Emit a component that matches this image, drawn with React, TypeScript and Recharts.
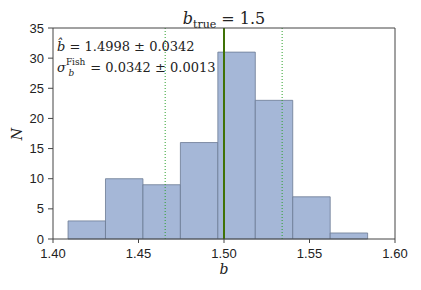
import React from 'react';
import { ComposedChart, XAxis, YAxis, ReferenceArea, ReferenceLine, Scatter } from 'recharts';

const binEdges = [1.4088, 1.4307, 1.4526, 1.4745, 1.4964, 1.5183, 1.5402, 1.5621, 1.5840];
const counts = [3, 10, 9, 16, 31, 23, 7, 1];
const xTicks = [1.4, 1.45, 1.5, 1.55, 1.6];
const yTicks = [0, 5, 10, 15, 20, 25, 30, 35];
const bTrue = 1.5;
const bHat = 1.4998;
const sigma = 0.0342;

const bins = counts.map((c, i) => ({ x0: binEdges[i], x1: binEdges[i + 1], n: c, mid: (binEdges[i] + binEdges[i + 1]) / 2 }));

const W = 421;
const H = 290;
const tickFont = { fontFamily: 'Liberation Sans, Arial, sans-serif', fontSize: 13, fill: '#222' };
const serif = 'DejaVu Serif, serif';

export default function App() {
  return (
    <div style={{ position: 'absolute', left: 0, top: 0, width: W, height: H, background: '#fff' }}>
      <ComposedChart width={W} height={H} data={bins} margin={{ top: 27, right: 25, bottom: 0, left: 13 }}>
        <XAxis
          xAxisId="b"
          dataKey="mid"
          type="number"
          domain={[1.4, 1.6]}
          ticks={xTicks}
          allowDataOverflow
          tickFormatter={(v: number) => v.toFixed(2)}
          tick={tickFont}
          tickSize={4}
          tickMargin={6}
          stroke="#444"
          height={51}
          interval={0}
        />
        <XAxis
          xAxisId="t"
          dataKey="mid"
          orientation="top"
          type="number"
          domain={[1.4, 1.6]}
          ticks={xTicks}
          allowDataOverflow
          tick={false}
          tickSize={4}
          stroke="#444"
          height={1}
          interval={0}
        />
        <YAxis
          yAxisId="l"
          dataKey="n"
          type="number"
          domain={[0, 35]}
          ticks={yTicks}
          allowDataOverflow
          tick={tickFont}
          tickSize={5}
          tickMargin={4}
          stroke="#444"
          width={40}
          interval={0}
        />
        <YAxis
          yAxisId="r"
          dataKey="n"
          orientation="right"
          type="number"
          domain={[0, 35]}
          ticks={yTicks}
          allowDataOverflow
          tick={false}
          tickSize={5}
          stroke="#444"
          width={1}
          interval={0}
        />
        {bins.map((b, i) => (
          <ReferenceArea
            key={i}
            xAxisId="b"
            yAxisId="l"
            x1={b.x0}
            x2={b.x1}
            y1={0}
            y2={b.n}
            fill="#a5b7d7"
            fillOpacity={1}
            stroke="#6b7a94"
            strokeOpacity={0.8}
            strokeWidth={1}
            ifOverflow="visible"
          />
        ))}
        <ReferenceLine xAxisId="b" yAxisId="l" x={bHat - sigma} stroke="#2ca02c" strokeWidth={1} strokeDasharray="1 2" />
        <ReferenceLine xAxisId="b" yAxisId="l" x={bHat + sigma} stroke="#2ca02c" strokeWidth={1} strokeDasharray="1 2" />
        <ReferenceLine xAxisId="b" yAxisId="l" x={bTrue} stroke="#3f7206" strokeWidth={2} />
        <Scatter xAxisId="b" yAxisId="l" dataKey="n" isAnimationActive={false} shape={() => <g />} />
        <Scatter xAxisId="t" yAxisId="r" dataKey="n" isAnimationActive={false} shape={() => <g />} />
        <text x={224} y={24} textAnchor="middle" fontFamily={serif} fontSize={16} fill="#222">
          <tspan fontStyle="italic">b</tspan>
          <tspan fontSize={11} dy={4}>true</tspan>
          <tspan dy={-4}> = 1.5</tspan>
        </text>
        <text x={57} y={51} fontFamily={serif} fontSize={13} fill="#222">
          <tspan fontStyle="italic">b̂</tspan>
          <tspan> = 1.4998 ± 0.0342</tspan>
        </text>
        <text x={57} y={72} fontFamily={serif} fontSize={13} fill="#222">
          <tspan fontStyle="italic">σ</tspan>
          <tspan fontSize={9} dy={-7}>Fish</tspan>
          <tspan fontSize={9} fontStyle="italic" dx={-17} dy={11}>b</tspan>
          <tspan dx={12} dy={-4}> = 0.0342 ± 0.0013</tspan>
        </text>
        <text x={22} y={134} textAnchor="middle" transform="rotate(-90 22 134)" fontFamily={serif} fontStyle="italic" fontSize={14} fill="#222">N</text>
        <text x={224} y={274} textAnchor="middle" fontFamily={serif} fontStyle="italic" fontSize={14} fill="#222">b</text>
      </ComposedChart>
    </div>
  );
}
